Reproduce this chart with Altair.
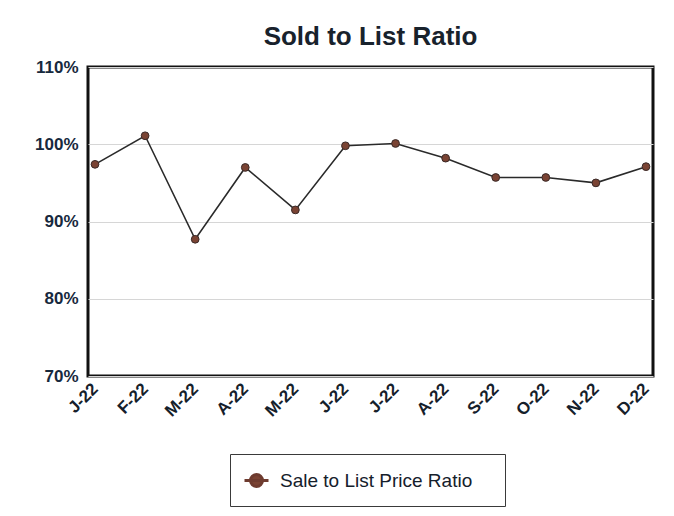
import altair as alt
import pandas as pd
import json

# ---- data ----
month_keys = ["Jan", "Feb", "Mar", "Apr", "May", "Jun", "Jul", "Aug", "Sep", "Oct", "Nov", "Dec"]
month_labels = ["J-22", "F-22", "M-22", "A-22", "M-22", "J-22", "J-22", "A-22", "S-22", "O-22", "N-22", "D-22"]
ratio_pct = [97.4, 101.1, 87.7, 97.0, 91.5, 99.8, 100.1, 98.2, 95.7, 95.7, 95.0, 97.1]
series_name = "Sale to List Price Ratio"
y_ticks = [70, 80, 90, 100, 110]

df = pd.DataFrame({"month": month_keys, "ratio": ratio_pct, "series": [series_name] * len(month_keys)})

W, H = 565, 309
PAD = {"left": 80, "top": 59, "right": 13, "bottom": 132}

label_expr = "%s[indexof(%s, datum.value)]" % (json.dumps(month_labels), json.dumps(month_keys))

x = alt.X(
    "month:O",
    scale=alt.Scale(type="point", domain=month_keys, padding=0.14),
    axis=alt.Axis(
        title=None, labelExpr=label_expr, labelAngle=-45, labelAlign="right",
        labelBaseline="middle", labelPadding=10, labelFontSize=17, labelFont="Liberation Sans",
        labelFontWeight="bold", labelColor="#15202b", ticks=False, domain=False, grid=False,
    ),
)
y = alt.Y(
    "ratio:Q",
    scale=alt.Scale(domain=[70, 110], nice=False, zero=False),
    axis=alt.Axis(
        title=None, values=y_ticks, labelExpr="datum.value + '%'", labelFontSize=17,
        labelFont="Liberation Sans", labelFontWeight="bold", labelColor="#17293d", labelPadding=10,
        ticks=False, domain=False, grid=True, gridColor="#d6d6d6", gridWidth=1,
    ),
)

base = alt.Chart(df)

line = base.mark_line(color="#2a2a2a", strokeWidth=1.6).encode(x=x, y=y)

legend_symbol = "M-1,0H1M-0.5,0A0.5,0.5,0,1,1,0.5,0A0.5,0.5,0,1,1,-0.5,0Z"

points = base.mark_point(filled=True, size=60, opacity=1, stroke="#3a2a28", strokeWidth=1).encode(
    x=x,
    y=y,
    color=alt.Color(
        "series:N",
        scale=alt.Scale(domain=[series_name], range=["#7a4333"]),
        legend=alt.Legend(
            title="\u00a0", titleOrient="right", titlePadding=20, titleFontSize=19,
            orient="none", legendX=142, legendY=387,
            symbolType=legend_symbol, symbolSize=576, symbolStrokeWidth=3,
            symbolStrokeColor="#6e3b2f", symbolFillColor="#6e3b2f",
            labelFontSize=19, labelFont="Liberation Sans", labelColor="#15202b",
            labelOffset=10, padding=13, strokeColor="#3a3a3a", labelLimit=400,
        ),
    ),
)

chart = alt.layer(line, points).properties(
    width=W, height=H,
    title=alt.TitleParams(
        "Sold to List Ratio", font="Liberation Sans", fontSize=26, fontWeight="bold",
        color="#18222c", anchor="middle", offset=8,
    ),
    autosize=alt.AutoSizeParams(type="none"),
    padding=PAD,
    background="white",
).configure_view(
    stroke="#111111", strokeWidth=3
)

chart.save("out.html", embed_options={"renderer": "svg", "actions": False})
